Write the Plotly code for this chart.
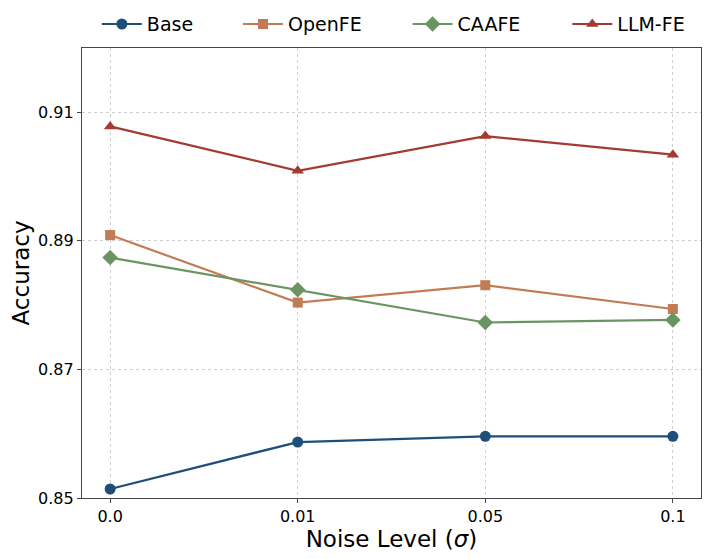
import plotly.graph_objects as go

# noise levels on the x axis (categorical)
noise_levels = ["0.0", "0.01", "0.05", "0.1"]

# accuracy per method
base = [0.8514, 0.8587, 0.8596, 0.8596]
openfe = [0.8909, 0.8804, 0.8831, 0.8794]
caafe = [0.8874, 0.8824, 0.8773, 0.8777]
llm_fe = [0.9078, 0.9009, 0.9063, 0.9034]

y_ticks = [0.85, 0.87, 0.89, 0.91]

# name, values, colour, marker, marker size, legend slot x (paper)
series = [
    ("Base", base, "#1f4e79", "circle", 11, 0.024),
    ("OpenFE", openfe, "#c27b55", "square", 10, 0.252),
    ("CAAFE", caafe, "#6a9562", "diamond", 12, 0.526),
    ("LLM-FE", llm_fe, "#a23b33", "triangle-up", 11, 0.784),
]

fig = go.Figure()

# one legend per series so the entries can be spread like the original
for i, (name, vals, color, symbol, msize, lx) in enumerate(series):
    legend_id = "legend" if i == 0 else "legend%d" % (i + 1)
    fig.add_trace(go.Scatter(x=noise_levels, y=vals, name=name,
                             mode="lines+markers",
                             line=dict(color=color, width=2.2),
                             marker=dict(symbol=symbol, size=msize, color=color),
                             legend=legend_id))
    fig.update_layout({legend_id: dict(x=lx, xanchor="left", y=1.053, yanchor="middle",
                                       orientation="h", font=dict(size=19),
                                       itemwidth=40, bgcolor="rgba(0,0,0,0)")})

# the page body adds an 8px offset, so margins are trimmed on the left/top
fig.update_layout(
    width=710, height=559,
    margin=dict(l=74, r=17, t=40, b=69, autoexpand=False),
    plot_bgcolor="white", paper_bgcolor="white",
    font=dict(family="DejaVu Sans", size=16, color="black"),
    showlegend=True,
)

fig.update_xaxes(
    type="category", range=[-0.15, 3.15], automargin=False,
    title=dict(text="Noise Level (<i>σ</i>)", font=dict(size=23), standoff=2),
    showgrid=True, gridcolor="#d0d0d0", griddash="3px,3px", gridwidth=1,
    showline=True, linecolor="#444444", linewidth=1.2, mirror=True,
    ticks="outside", ticklen=4, tickcolor="#444444",
)
fig.update_yaxes(
    range=[0.85, 0.92], tickvals=y_ticks, tickformat=".2f", automargin=False,
    title=dict(text="Accuracy", font=dict(size=23), standoff=6),
    showgrid=True, gridcolor="#d0d0d0", griddash="3px,3px", gridwidth=1,
    zeroline=False,
    showline=True, linecolor="#444444", linewidth=1.2, mirror=True,
    ticks="outside", ticklen=4, tickcolor="#444444",
)

fig.write_html("out.html")
